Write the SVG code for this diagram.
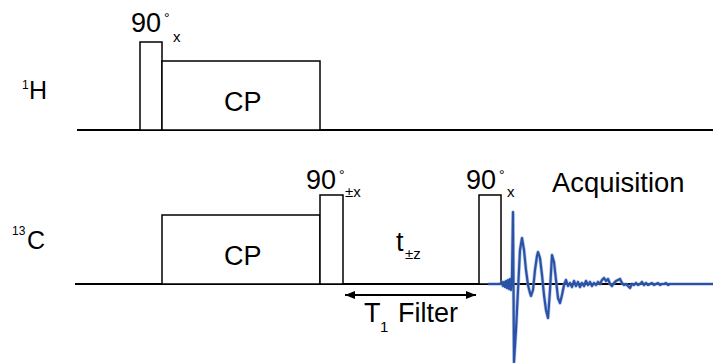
<svg xmlns="http://www.w3.org/2000/svg" width="713" height="363" viewBox="0 0 713 363">
<style>
text{font-family:"Liberation Sans",Arial,sans-serif;fill:#000}
.big{font-size:27px}
.lab{font-size:25px}
.sup{font-size:12px}
.sub{font-size:15px}
.deg{font-size:14px}
.pulse{fill:#fff;stroke:#000;stroke-width:1.5}
.base{stroke:#000;stroke-width:2;fill:none}
.fid{fill:none;stroke:#2a52a6;stroke-width:2.2;stroke-linejoin:round}
.halo{fill:none;stroke:#7f9bd3;stroke-width:3.6;stroke-linejoin:round;opacity:0.55}
</style>
<defs>
<marker id="ah" viewBox="0 0 10 10" refX="10" refY="5" markerWidth="10" markerHeight="10" markerUnits="userSpaceOnUse" orient="auto-start-reverse">
<path d="M0,1 L10,5 L0,9 z" fill="#000"/>
</marker>
<polyline id="fidline" points="488,284 500,284 502,282 503,286 504,282 505,287 506,281 507,288 508,280 509,289 510,279 511,290 512,276 513,212 514,362 516,330 518,290 520,250 522,238 524,250 526,270 528,285 530,293 531,296 533,290 535,270 537,256 538,252 540,258 542,275 544,295 546,310 548,318 550,290 552,255 554,262 556,280 558,298 560,303 562,295 564,285 566,280 568,286 570,283 572,287 574,281 576,286 578,282 580,287 582,283 584,286 586,281 588,285 590,282 592,286 594,283 596,285 598,282 600,284 602,280 604,278 606,281 608,279 610,284 612,286 614,283 616,281 618,280 620,279 622,283 624,285 626,284 628,286 630,288 632,284 634,285 636,283 638,285 640,284 642,282 644,285 646,283 648,285 650,284 652,283 654,285 656,284 658,283 660,285 662,284 664,284 666,283 668,285 670,284 680,284 713,284"/>
</defs>
<g id="connectors">
<line class="base" x1="77" y1="130" x2="713" y2="130"/>
<line class="base" x1="75" y1="284" x2="713" y2="284"/>
<line x1="345" y1="295" x2="476" y2="295" stroke="#000" stroke-width="2" marker-start="url(#ah)" marker-end="url(#ah)"/>
</g>
<g id="label-1H"><text class="sup" x="22" y="89">1</text><text class="lab" x="29" y="99">H</text></g>
<g id="label-13C"><text class="sup" x="12" y="235">13</text><text class="lab" x="27" y="249">C</text></g>
<g id="h-pulse90">
<rect class="pulse" x="140" y="42" width="22" height="88"/>
<text class="big" x="131" y="32">90</text><text class="deg" x="164" y="23">°</text><text class="sub" x="173" y="42">x</text>
</g>
<g id="h-cp">
<rect class="pulse" x="162" y="61" width="158" height="69"/>
<text class="big" x="224" y="111">CP</text>
</g>
<g id="c-cp">
<rect class="pulse" x="162" y="215" width="158" height="69"/>
<text class="big" x="224" y="265">CP</text>
</g>
<g id="c-pulse90a">
<rect class="pulse" x="320" y="195" width="23" height="89"/>
<text class="big" x="306" y="189">90</text><text class="deg" x="339" y="180">°</text><text class="sub" x="345" y="197">±x</text>
</g>
<g id="t-delay"><text class="big" x="396" y="251">t</text><text class="sub" x="405" y="259">±z</text></g>
<g id="t1-filter"><text class="big" x="364" y="322">T</text><text class="sub" x="380" y="332">1</text><text class="big" x="398" y="322">Filter</text></g>
<g id="c-pulse90b">
<rect class="pulse" x="479" y="195" width="22" height="89"/>
<text class="big" x="466" y="189">90</text><text class="deg" x="499" y="180">°</text><text class="sub" x="507" y="197">x</text>
</g>
<g id="acquisition">
<text class="big" x="552" y="192" style="font-size:27.4px">Acquisition</text>
<use href="#fidline" class="halo"/>
<use href="#fidline" class="fid"/>
</g>
</svg>
